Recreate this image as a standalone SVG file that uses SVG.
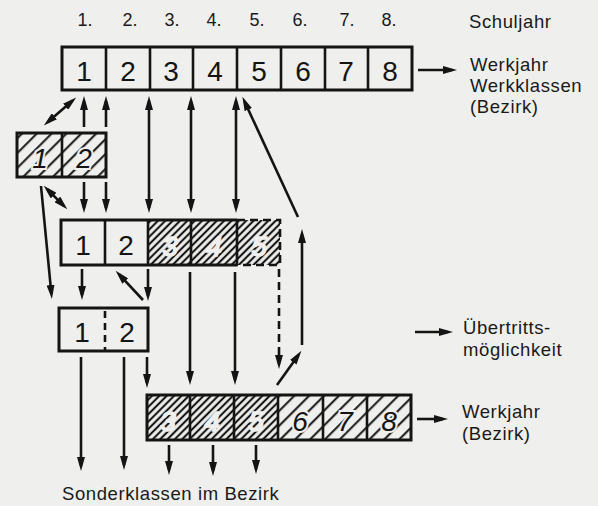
<svg xmlns="http://www.w3.org/2000/svg" width="598" height="506" viewBox="0 0 598 506">
<style>
.bg{fill:#efefed}
.box{fill:none;stroke:#141414;stroke-width:3}
.div{stroke:#141414;stroke-width:2.6}
.dash{fill:none;stroke:#141414;stroke-width:2.6;stroke-dasharray:8 5}
.dig{font-family:"Liberation Sans",Arial,sans-serif;font-size:28px;fill:#141414;text-anchor:middle}
.hdig{font-family:"Liberation Sans",Arial,sans-serif;font-size:28px;font-style:italic;fill:#141414;stroke:#efefed;stroke-width:4;paint-order:stroke;text-anchor:middle}
.kdig{font-family:"Liberation Sans",Arial,sans-serif;font-size:28px;font-style:italic;fill:#efefed;stroke:#efefed;stroke-width:1.5;text-anchor:middle}
.hdr{font-family:"Liberation Sans",Arial,sans-serif;font-size:18px;fill:#1a1a1a;text-anchor:middle}
.lbl{font-family:"Liberation Sans",Arial,sans-serif;font-size:18.5px;fill:#1a1a1a;letter-spacing:0.6px}
.ar{fill:none;stroke:#141414;stroke-width:2.6;marker-end:url(#ah)}
.ar2{fill:none;stroke:#141414;stroke-width:2.6;marker-start:url(#ah);marker-end:url(#ah)}
.ard{fill:none;stroke:#141414;stroke-width:2.6;stroke-dasharray:8 5;marker-end:url(#ah)}
</style>
<defs>
<marker id="ah" viewBox="0 0 14 8" refX="9" refY="4" markerWidth="14" markerHeight="8" markerUnits="userSpaceOnUse" orient="auto-start-reverse">
<path d="M0,0 L14,4 L0,8 z" fill="#141414"/>
</marker>
<pattern id="hatchD" patternUnits="userSpaceOnUse" width="5.2" height="5.2" patternTransform="rotate(45)">
<line x1="2.6" y1="0" x2="2.6" y2="5.2" stroke="#141414" stroke-width="2.1"/>
</pattern>
<pattern id="hatchS" patternUnits="userSpaceOnUse" width="10.5" height="10.5" patternTransform="rotate(45)">
<line x1="5" y1="0" x2="5" y2="10.5" stroke="#141414" stroke-width="2"/>
</pattern>
</defs>
<rect class="bg" x="0" y="0" width="598" height="506"/>

<g id="headers">
<text class="hdr" x="85" y="26">1.</text>
<text class="hdr" x="130" y="26">2.</text>
<text class="hdr" x="172" y="26">3.</text>
<text class="hdr" x="214" y="26">4.</text>
<text class="hdr" x="257" y="26">5.</text>
<text class="hdr" x="300" y="26">6.</text>
<text class="hdr" x="347" y="26">7.</text>
<text class="hdr" x="389" y="26">8.</text>
<text class="lbl" x="469" y="28">Schuljahr</text>
</g>

<g id="row1">
<rect class="box" x="62" y="47" width="350" height="43"/>
<line class="div" x1="106" y1="47" x2="106" y2="90"/>
<line class="div" x1="150" y1="47" x2="150" y2="90"/>
<line class="div" x1="193" y1="47" x2="193" y2="90"/>
<line class="div" x1="237" y1="47" x2="237" y2="90"/>
<line class="div" x1="281" y1="47" x2="281" y2="90"/>
<line class="div" x1="325" y1="47" x2="325" y2="90"/>
<line class="div" x1="368" y1="47" x2="368" y2="90"/>
<text class="dig" x="84" y="81">1</text>
<text class="dig" x="128" y="81">2</text>
<text class="dig" x="171" y="81">3</text>
<text class="dig" x="215" y="81">4</text>
<text class="dig" x="259" y="81">5</text>
<text class="dig" x="303" y="81">6</text>
<text class="dig" x="346" y="81">7</text>
<text class="dig" x="390" y="81">8</text>
</g>

<g id="label-werkklassen">
<text class="lbl" x="470" y="71">Werkjahr</text>
<text class="lbl" x="470" y="92">Werkklassen</text>
<text class="lbl" x="470" y="113">(Bezirk)</text>
</g>

<g id="box2">
<rect x="17" y="133" width="89" height="44" fill="url(#hatchS)"/>
<text class="hdig" x="40" y="168">1</text>
<text class="hdig" x="84" y="168">2</text>
<rect class="box" x="17" y="133" width="89" height="44"/>
<line class="div" x1="62" y1="133" x2="62" y2="177"/>
</g>

<g id="row3">
<rect x="148" y="220" width="132" height="45" fill="url(#hatchD)"/>
<text class="kdig" x="170" y="256">3</text>
<text class="kdig" x="214" y="256">4</text>
<text class="kdig" x="259" y="256">5</text>
<path class="box" d="M237,220 H61 V265 H237"/>
<path class="dash" d="M237,220 H280 V265 H237"/>
<line class="div" x1="105" y1="220" x2="105" y2="265"/>
<line class="div" x1="148" y1="220" x2="148" y2="265"/>
<line class="div" x1="191" y1="220" x2="191" y2="265"/>
<line class="div" x1="237" y1="220" x2="237" y2="265"/>
<text class="dig" x="83" y="255">1</text>
<text class="dig" x="126" y="255">2</text>
</g>

<g id="box4">
<rect class="box" x="59" y="308" width="89" height="43"/>
<line class="div" x1="105" y1="311" x2="105" y2="350" stroke-dasharray="7 5"/>
<text class="dig" x="82" y="342">1</text>
<text class="dig" x="127" y="342">2</text>
</g>

<g id="row5">
<rect x="147" y="395" width="131" height="45" fill="url(#hatchD)"/>
<rect x="278" y="395" width="133" height="45" fill="url(#hatchS)"/>
<text class="kdig" x="168" y="431">3</text>
<text class="kdig" x="212" y="431">4</text>
<text class="kdig" x="256" y="431">5</text>
<text class="hdig" x="300" y="431">6</text>
<text class="hdig" x="345" y="431">7</text>
<text class="hdig" x="389" y="431">8</text>
<rect class="box" x="147" y="395" width="264" height="45"/>
<line class="div" x1="190" y1="395" x2="190" y2="440"/>
<line class="div" x1="234" y1="395" x2="234" y2="440"/>
<line class="div" x1="278" y1="395" x2="278" y2="440" stroke-width="3.4"/>
<line class="div" x1="323" y1="395" x2="323" y2="440"/>
<line class="div" x1="367" y1="395" x2="367" y2="440"/>
</g>

<g id="label-werkjahr">
<text class="lbl" x="462" y="418">Werkjahr</text>
<text class="lbl" x="462" y="440">(Bezirk)</text>
</g>

<g id="legend">
<line class="ar" x1="415" y1="332" x2="448" y2="332"/>
<text class="lbl" x="463" y="334">Übertritts-</text>
<text class="lbl" x="463" y="356">möglichkeit</text>
</g>

<g id="footer">
<text class="lbl" x="62" y="500" letter-spacing="0.9">Sonderklassen im Bezirk</text>
</g>

<g id="connectors">
<line class="ar" x1="418" y1="70" x2="452" y2="70"/>
<line class="ar" x1="417" y1="419" x2="443" y2="419"/>

<line class="ar2" x1="47.6" y1="122.2" x2="72.4" y2="100.8"/>
<line class="ar" x1="84" y1="127" x2="84" y2="101"/>
<line class="ar" x1="106" y1="127" x2="106" y2="101"/>
<line class="ar2" x1="149" y1="101" x2="149" y2="208"/>
<line class="ar2" x1="191" y1="101" x2="191" y2="208"/>
<line class="ar2" x1="236" y1="101" x2="236" y2="208"/>
<line class="ar" x1="298" y1="217" x2="244.5" y2="101.4"/>
<line class="ar" x1="302" y1="345" x2="302" y2="234"/>
<line class="ar" x1="277" y1="385" x2="298.5" y2="354.9"/>
<line class="ard" x1="279" y1="269" x2="279" y2="364"/>

<line class="ar2" x1="47.2" y1="189.2" x2="63.8" y2="205.8"/>
<line class="ar" x1="41" y1="186" x2="51.4" y2="294"/>
<line class="ar" x1="84" y1="182" x2="84" y2="208"/>
<line class="ar" x1="106" y1="182" x2="106" y2="208"/>

<line class="ar" x1="82" y1="269" x2="82" y2="295"/>
<line class="ar" x1="143" y1="300" x2="119.1" y2="274.4"/>
<line class="ar" x1="148" y1="269" x2="148" y2="296"/>
<line class="ar" x1="190" y1="272" x2="190" y2="380"/>
<line class="ar" x1="235" y1="272" x2="235" y2="380"/>

<line class="ar" x1="81" y1="357" x2="81" y2="466"/>
<line class="ar" x1="124" y1="357" x2="124" y2="465"/>
<line class="ar" x1="147" y1="357" x2="147" y2="383"/>

<line class="ar" x1="169" y1="445" x2="169" y2="470"/>
<line class="ar" x1="213" y1="445" x2="213" y2="471"/>
<line class="ar" x1="256" y1="445" x2="256" y2="469"/>
</g>
</svg>
